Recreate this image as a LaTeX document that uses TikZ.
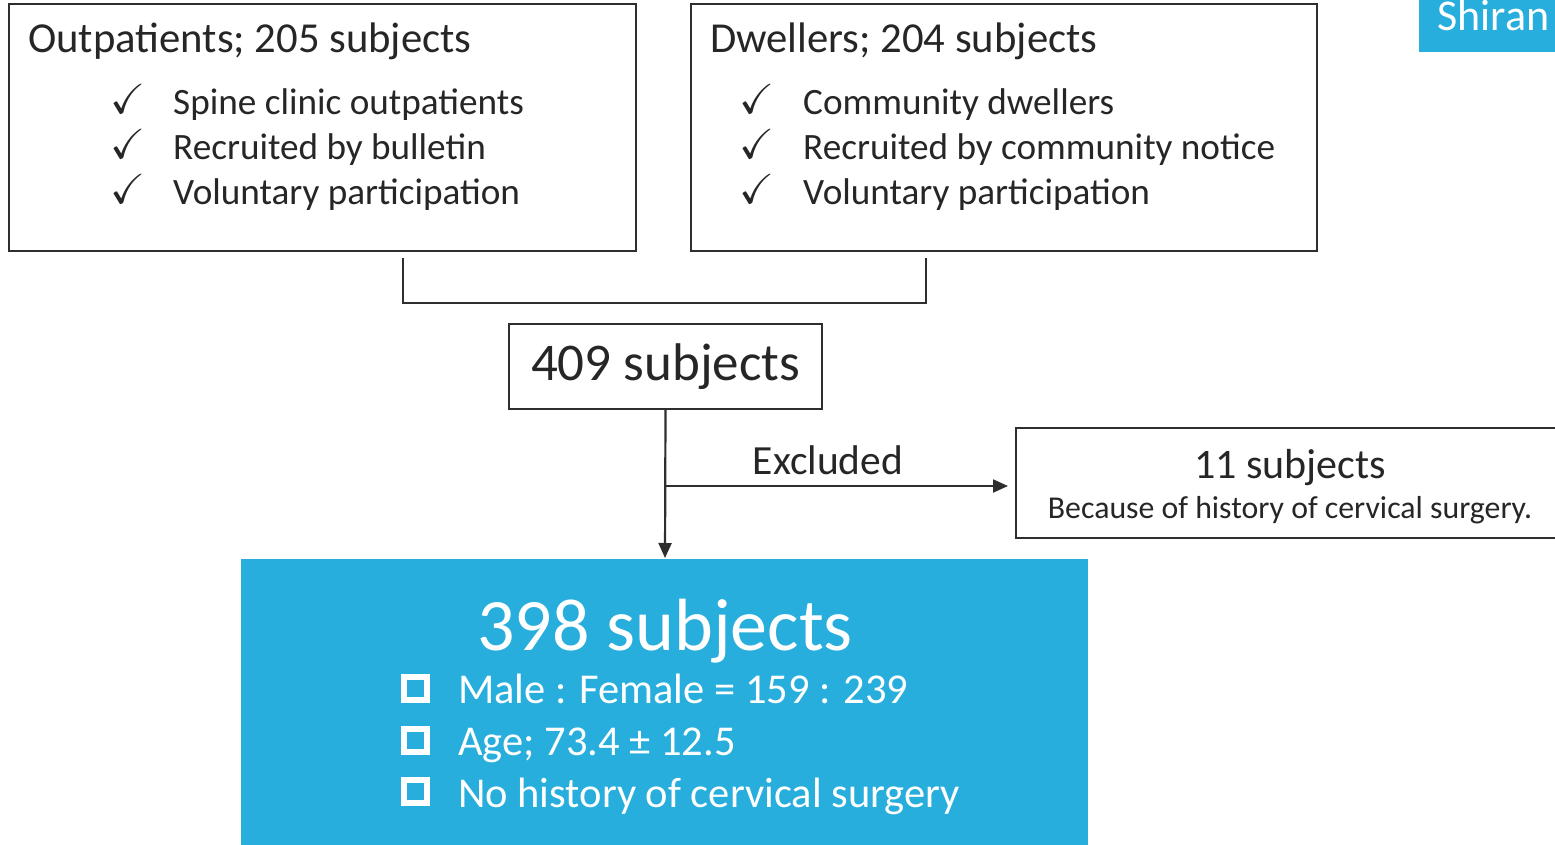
\documentclass[tikz,border=0pt]{standalone}
\usepackage{amssymb}
\usepackage{fontspec}
\setmainfont{Carlito}
\usetikzlibrary{positioning, arrows.meta}
\definecolor{flowBlue}{HTML}{27AEDC}
\definecolor{inkDark}{HTML}{262626}
\definecolor{lineDark}{HTML}{2E2E2E}

\begin{document}
\begin{tikzpicture}[
  x=1pt, y=-1pt,
  every node/.style={inner sep=0pt, text=inkDark},
  frameBox/.style={rectangle, draw=lineDark, line width=2pt, fill=white, anchor=north west},
  headTxt/.style={font=\fontsize{42.7}{48}\selectfont, anchor=base west},
  itemTxt/.style={font=\fontsize{37.2}{44}\selectfont, anchor=base west},
  tickMark/.style={font=\fontsize{42}{48}\selectfont, anchor=center},
  sqBullet/.style={rectangle, draw=white, line width=6pt, minimum size=23pt},
  blueTxt/.style={font=\fontsize{42.5}{48}\selectfont, anchor=base west, text=white},
  link/.style={draw=lineDark, line width=2.2pt},
  tipArrow/.style={-{Triangle[length=15pt, width=13pt]}},
]
  \clip (0,0) rectangle (1555,845);

  % top right badge
  \fill[flowBlue] (1419,0) rectangle (1565,52);
  \node[blueTxt, font=\fontsize{44}{50}\selectfont] (badge) at (1437,31) {Shiran};

  % source boxes
  \node[frameBox, minimum width=627pt, minimum height=247pt] (outBox) at (8,3) {};
  \node[headTxt] (outHead) at (28,53) {Outpatients; 205 subjects};
  \node[tickMark] (outT1) at (128,99) {$\checkmark$};
  \node[tickMark] (outT2) at (128,144) {$\checkmark$};
  \node[tickMark] (outT3) at (128,189) {$\checkmark$};
  \node[itemTxt] (outI1) at (173,115) {Spine clinic outpatients};
  \node[itemTxt] (outI2) at (173,160) {Recruited by bulletin};
  \node[itemTxt] (outI3) at (173,205) {Voluntary participation};

  \node[frameBox, minimum width=626pt, minimum height=247pt] (dwlBox) at (690,3) {};
  \node[headTxt] (dwlHead) at (710,53) {Dwellers; 204 subjects};
  \node[tickMark] (dwlT1) at (757,99) {$\checkmark$};
  \node[tickMark] (dwlT2) at (757,144) {$\checkmark$};
  \node[tickMark] (dwlT3) at (757,189) {$\checkmark$};
  \node[itemTxt] (dwlI1) at (803,115) {Community dwellers};
  \node[itemTxt] (dwlI2) at (803,160) {Recruited by community notice};
  \node[itemTxt] (dwlI3) at (803,205) {Voluntary participation};

  % merge bracket
  \coordinate (brkL) at (403,258);
  \coordinate (brkR) at (926,258);
  \draw[link] (brkL) -- ++(0,45) -| (brkR);

  % pooled count
  \node[frameBox, minimum width=313pt, minimum height=85pt] (sumBox) at (508,323) {};
  \node[font=\fontsize{53}{60}\selectfont] (sumTxt) at (sumBox) {409 subjects};

  % exclusion
  \node[frameBox, minimum width=550pt, minimum height=110pt] (exclBox) at (1015,427) {};
  \node[font=\fontsize{42}{48}\selectfont, anchor=base] (exclHead) at (1290,478) {11 subjects};
  \node[font=\fontsize{31.8}{36}\selectfont, anchor=base] (exclWhy) at (1290,518)
        {Because of history of cervical surgery.};

  % final cohort
  \fill[flowBlue] (241,559) rectangle (1088,870);
  \coordinate (finTop) at (665,559);
  \node[font=\fontsize{74}{80}\selectfont, anchor=base, text=white] (finHead) at (665,650) {398 subjects};
  \node[sqBullet] (finB1) at (415.5,688) {};
  \node[sqBullet] (finB2) at (415.5,740) {};
  \node[sqBullet] (finB3) at (415.5,791) {};
  \node[blueTxt] (finI1) at (458,703) {Male : Female = 159 : 239};
  \node[blueTxt] (finI2) at (458,755) {Age; 73.4 ± 12.5};
  \node[blueTxt] (finI3) at (458,807) {No history of cervical surgery};

  % flow arrows
  \coordinate (split) at (665,486);
  \draw[link, tipArrow, shorten >=1pt] (sumBox.south) -- (finTop);
  \draw[link, tipArrow, shorten >=7pt] (split) -- (exclBox.west |- split);
  \node[font=\fontsize{41.5}{48}\selectfont, anchor=base] (exclLbl) at (828,474) {Excluded};
\end{tikzpicture}
\end{document}
